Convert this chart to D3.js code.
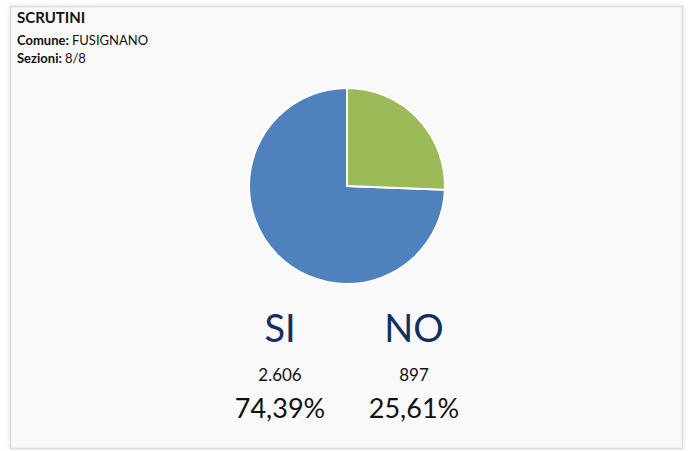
<!DOCTYPE html>
<html lang="it">
<head>
<meta charset="utf-8">
<script src="https://d3js.org/d3.v7.min.js"></script>
<title>Scrutini</title>
<style>
  body { margin: 0; background: #fff; }
  svg text { font-family: Lato, "Open Sans", sans-serif; }
</style>
</head>
<body>
<div id="chart"></div>
<script>
  // dati
  const labels = ["SI", "NO"];
  const votes = [2606, 897];
  const percents = ["74,39%", "25,61%"];
  const colors = ["#4f81bd", "#9bbb59"];
  const comune = "FUSIGNANO";
  const sezioni = "8/8";

  const w = 692, h = 451;
  const svg = d3.select("#chart").append("svg").attr("width", w).attr("height", h);

  const defs = svg.append("defs");
  const f = defs.append("filter").attr("id", "shadow").attr("x", "-5%").attr("y", "-5%").attr("width", "110%").attr("height", "110%");
  f.append("feDropShadow").attr("dx", 0).attr("dy", 0).attr("stdDeviation", 2).attr("flood-color", "#000").attr("flood-opacity", 0.12);

  // riquadro
  svg.append("rect").attr("x", 10.5).attr("y", 6.5).attr("width", 672).attr("height", 442)
     .attr("fill", "#f9f9f9").attr("stroke", "#dcdcdc").attr("stroke-width", 1.5)
     .attr("filter", "url(#shadow)");

  // intestazione
  svg.append("text").attr("x", 17).attr("y", 23).attr("font-size", 15).attr("font-weight", "bold")
     .attr("fill", "#111").text("SCRUTINI");
  const t1 = svg.append("text").attr("x", 17).attr("y", 45).attr("font-size", 13).attr("fill", "#111");
  t1.append("tspan").attr("font-weight", "bold").text("Comune: ");
  t1.append("tspan").text(comune);
  const t2 = svg.append("text").attr("x", 17).attr("y", 63).attr("font-size", 13).attr("fill", "#111");
  t2.append("tspan").attr("font-weight", "bold").text("Sezioni: ");
  t2.append("tspan").text(sezioni);

  // torta
  const data = labels.map((l, i) => ({label: l, value: votes[i], color: colors[i]}));
  const pie = d3.pie().value(d => d.value).sort((a, b) => d3.ascending(a.value, b.value));
  const arc = d3.arc().innerRadius(0).outerRadius(98);
  const g = svg.append("g").attr("transform", "translate(347,186)");
  g.selectAll("path").data(pie(data)).enter().append("path")
   .attr("d", arc).attr("fill", d => d.data.color)
   .attr("stroke", "#fff").attr("stroke-width", 2);

  // etichette
  const x = d3.scalePoint().domain(labels).range([280, 414]);
  const lab = svg.selectAll("g.lab").data(data).enter().append("g").attr("class", "lab")
     .attr("transform", d => "translate(" + x(d.label) + ",0)");
  lab.append("text").attr("y", 342).attr("text-anchor", "middle").attr("font-size", 38)
     .attr("fill", "#122f60").text(d => d.label);
  lab.append("text").attr("y", 381).attr("text-anchor", "middle").attr("font-size", 17)
     .attr("fill", "#111").text(d => d3.format(",")(d.value).replace(/,/g, "."));
  lab.append("text").attr("y", 418).attr("text-anchor", "middle").attr("font-size", 27)
     .attr("fill", "#111").text((d, i) => percents[i]);
</script>
</body>
</html>
